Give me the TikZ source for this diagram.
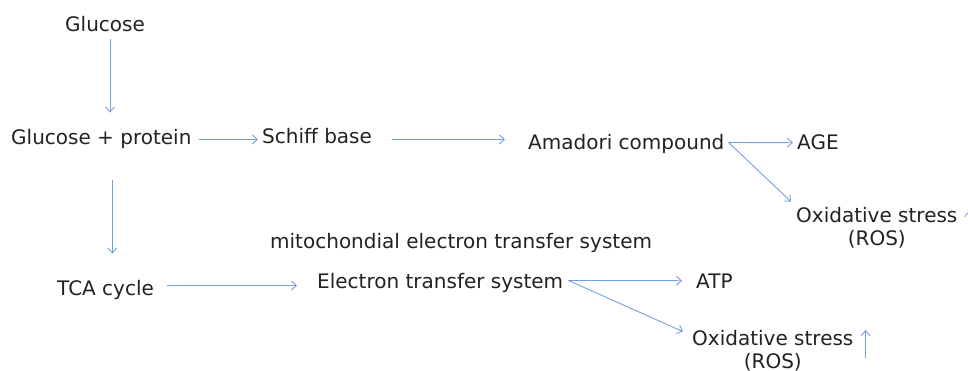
\documentclass[tikz,border=0pt]{standalone}
\usepackage{fontspec}
\setmainfont{DejaVu Sans}
\usetikzlibrary{arrows.meta,calc}
\definecolor{txtgray}{RGB}{34,34,34}
\definecolor{flowblue}{RGB}{118,160,216}
\begin{document}
\begin{tikzpicture}[x=1pt,y=-1pt,
  lbl/.style={anchor=base west,inner sep=0pt,text=txtgray,
    font=\fontsize{20}{24}\selectfont},
  flow/.style={draw=flowblue,line width=0.9pt,
    -{Straight Barb[length=5pt,width=9pt]}}]
\useasboundingbox (0,0) rectangle (968,371);

% labels
\node[lbl] (glc) at (65,32) {Glucose};
\node[lbl] (gp)  at (11,145) {Glucose + protein};
\node[lbl] (sb)  at (262,144) {Schiff base};
\node[lbl] (am)  at (528,150) {Amadori compound};
\node[lbl] (age) at (797,150) {AGE};
\node[lbl] (ox1) at (796,223) {Oxidative stress};
\node[lbl,anchor=base] (ros1) at ($(ox1.base)+(0,23)$) {(ROS)};
\node[lbl] (mito) at (270,248) {mitochondial electron transfer system};
\node[lbl] (tca) at (57,295) {TCA cycle};
\node[lbl] (ets) at (317,288) {Electron transfer system};
\node[lbl] (atp) at (696,288) {ATP};
\node[lbl] (ox2) at (692,345) {Oxidative stress};
\node[lbl,anchor=base] (ros2) at ($(ox2.base)+(0,23)$) {(ROS)};

% glycation branch
\draw[flow] ($(glc.south)+(5,7)$) -- ($(glc.south |- gp.north)+(5,-17)$);
\draw[flow] ($(gp.east)+(7,0)$) -- ($(sb.west |- gp.east)+(-4,0)$);
\draw[flow] ($(sb.east |- gp.east)+(20,0)$) -- ($(am.west |- gp.east)+(-23,0)$);
\draw[flow] ($(am.east)+(4,-2)$) -- ($(age.west)+(-4,0)$);
\draw[flow] ($(am.east)+(4,-2)$) -- ($(ox1.north west)+(-5,-6)$);

% energy branch
\draw[flow] ($(gp.south)+(11,31)$) -- ($(gp.south |- tca.north)+(11,-26)$);
\draw[flow] ($(tca.east)+(13,-4)$) -- ($(ets.west |- tca.east)+(-20,-4)$);
\draw[flow] ($(ets.east)+(5,-2)$) -- ($(atp.west)+(-14,0)$);
\draw[flow] ($(ets.east)+(5,-2)$) -- ($(ox2.north west)+(-9,2)$);

% increase markers beside the stress labels
\draw[flow] ($(ox1.base east)+(11.5,17)$) -- ($(ox1.base east)+(11.5,-12)$);
\draw[flow] ($(ox2.base east)+(12,13)$) -- ($(ox2.base east)+(12,-15)$);
\end{tikzpicture}
\end{document}
